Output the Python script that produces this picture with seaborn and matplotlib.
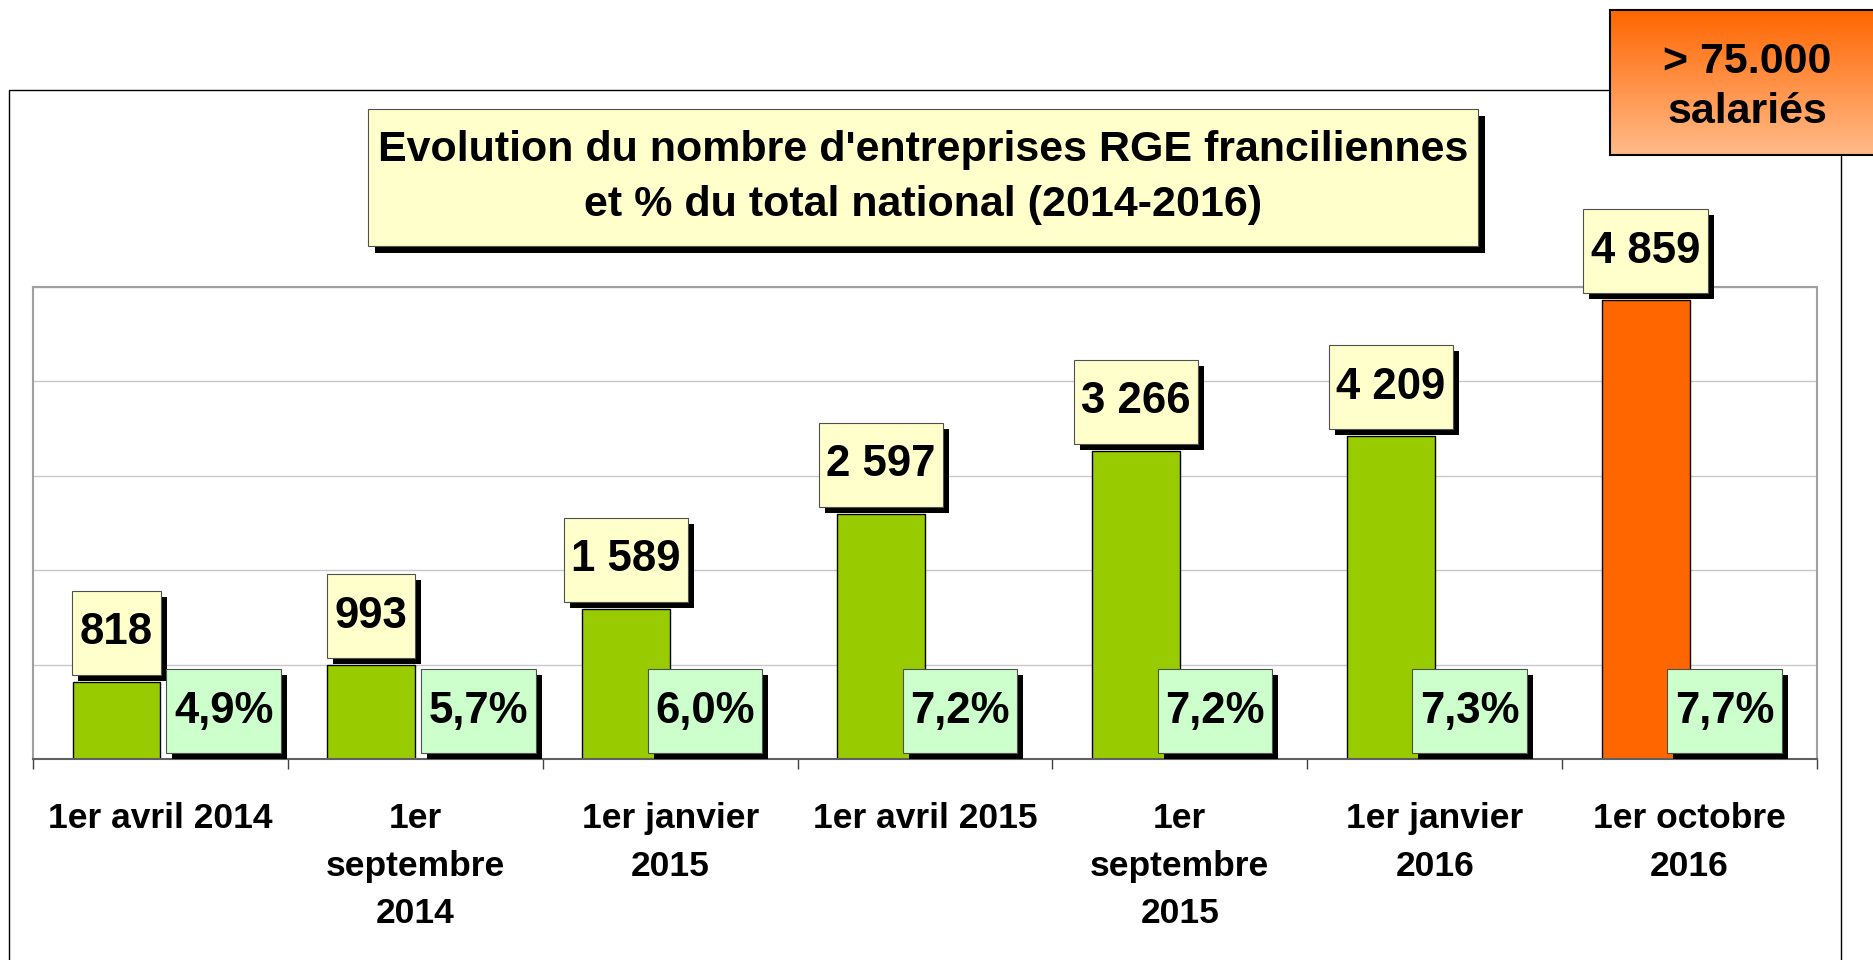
import matplotlib
matplotlib.use('Agg')
import matplotlib.pyplot as plt
import seaborn as sns
import pandas as pd
import numpy as np
from matplotlib.patches import Rectangle
from matplotlib.transforms import IdentityTransform
from matplotlib.colors import LinearSegmentedColormap

# data
dates = ['1er avril 2014', '1er\nseptembre\n2014', '1er janvier\n2015', '1er avril 2015',
         '1er\nseptembre\n2015', '1er janvier\n2016', '1er octobre\n2016']
entreprises = [818, 993, 1589, 2597, 3266, 4209, 4859]
# bar heights as drawn in the original (the "4 209" bar only reaches ~3 420 there)
hauteur_barres = [818, 993, 1589, 2597, 3266, 3420, 4859]
part_nationale = [4.9, 5.7, 6.0, 7.2, 7.2, 7.3, 7.7]
bar_colors = ['#99CC00'] * 6 + ['#FF6600']

titre = "Evolution du nombre d'entreprises RGE franciliennes\net % du total national (2014-2016)"
encart = ['> 75.000', 'salariés']

sns.set_style('white')
plt.rcParams['font.family'] = ['Liberation Sans', 'DejaVu Sans']
plt.rcParams['font.weight'] = 'bold'
plt.rcParams['text.color'] = 'black'

W, H, DPI = 1873, 960, 100
PT = 72 / DPI  # pixels -> points
fig = plt.figure(figsize=(W / DPI, H / DPI), dpi=DPI, facecolor='white')
ax = fig.add_axes([33 / W, 1 - 759 / H, (1817 - 33) / W, (759 - 287) / H])

df = pd.DataFrame({'date': dates, 'n': hauteur_barres})
bw = 0.345
sns.barplot(data=df, x='date', y='n', hue='date', palette=bar_colors, width=bw,
            saturation=1, edgecolor='black', linewidth=1.0, legend=False,
            errorbar=None, ax=ax, zorder=2)
# bars sit on the left half of each category (second, hidden series on the right)
for p in ax.patches:
    p.set_x(p.get_x() - bw / 2)

ax.set_xlim(-0.5, 6.5)
ax.set_ylim(0, 5000)
ax.set_yticks(range(0, 5001, 1000))
ax.yaxis.grid(True, color='#C8C8C8', lw=1)
ax.set_axisbelow(True)
ax.set_xlabel('')
ax.set_ylabel('')
ax.tick_params(axis='y', left=False, labelleft=False)
ax.set_xticks(range(len(dates)))
ax.set_xticklabels(dates, fontsize=25.5, fontweight='bold', linespacing=1.56)
ax.set_xticks(np.arange(-0.5, len(dates)), minor=True)
ax.tick_params(axis='x', which='major', bottom=True, length=0, pad=31, labelcolor='black')
ax.tick_params(axis='x', which='minor', bottom=True, length=7.5, width=1,
               color='#404040', direction='out')
for s in ['left', 'top', 'right']:
    ax.spines[s].set_color('#A0A0A0')
    ax.spines[s].set_linewidth(1.5)
ax.spines['bottom'].set_color('#606060')
ax.spines['bottom'].set_linewidth(1.5)

HPAD, VPAD, SH = 7.5, 21.5, 6
FS = 31.5

fig.canvas.draw()
renderer = fig.canvas.get_renderer()


def boxed(txt, face, parent, z, hpad=HPAD, vpad=VPAD, shadow=SH):
    bb = txt.get_window_extent(renderer)
    x0, y0 = bb.x0 - hpad, bb.y0 - vpad
    w, h = bb.width + 2 * hpad, bb.height + 2 * vpad
    for r in (Rectangle((x0 + shadow, y0 - shadow), w, h, fc='black', ec='none'),
              Rectangle((x0, y0), w, h, fc=face, ec='#505050', lw=0.8)):
        r.set_transform(IdentityTransform())
        r.set_clip_on(False)
        r.set_zorder(z)
        parent.add_artist(r)
    txt.set_zorder(z + 1)


# value labels above bars
val_txts = []
for i, (v, hb) in enumerate(zip(entreprises, hauteur_barres)):
    t = ax.annotate(f'{v:,}'.replace(',', ' '), xy=(i - bw / 2, hb),
                    xytext=(0, (7 + VPAD) * PT), textcoords='offset points',
                    ha='center', va='bottom', fontsize=FS, fontweight='bold',
                    color='black', annotation_clip=False)
    val_txts.append(t)
fig.canvas.draw()

base_disp = ax.transData.transform((0, 0))[1]
pct_txts = []
for i, p in enumerate(part_nationale):
    vb = val_txts[i].get_window_extent(renderer)
    val_bottom = vb.y0 - VPAD - SH
    pct_top = base_disp + SH + vb.height + 2 * VPAD
    lab = f'{p:.1f}%'.replace('.', ',')
    if val_bottom < pct_top + 12:
        # pushed to the right of the bar so it does not hit the value box
        t = ax.annotate(lab, xy=(i, 0), xytext=((SH + HPAD) * PT, (SH + VPAD) * PT),
                        textcoords='offset points', ha='left', va='bottom',
                        fontsize=FS, fontweight='bold', color='black',
                        annotation_clip=False)
    else:
        t = ax.annotate(lab, xy=(i, 0), xytext=(35 * PT, (SH + VPAD) * PT),
                        textcoords='offset points', ha='center', va='bottom',
                        fontsize=FS, fontweight='bold', color='black',
                        annotation_clip=False)
    pct_txts.append(t)
fig.canvas.draw()

for t in val_txts:
    boxed(t, '#FFFFCC', ax, 5)
for t in pct_txts:
    boxed(t, '#CCFFCC', ax, 5)

# title box
tt = fig.text(923 / W, 1 - 177.5 / H, titre, ha='center', va='center',
              fontsize=31, fontweight='bold', linespacing=1.49, color='black')
fig.canvas.draw()
boxed(tt, '#FFFFCC', fig, 4, hpad=10, vpad=21, shadow=7)

# outer frame
frame = Rectangle((9, -10), 1841 - 9, H - 90 + 10, fill=False, ec='black', lw=1.0,
                  transform=IdentityTransform(), zorder=1)
fig.add_artist(frame)

# orange gradient box top right
axo = fig.add_axes([1610 / W, 1 - 155 / H, (1885 - 1610) / W, 145 / H], zorder=6)
cmap = LinearSegmentedColormap.from_list('orange', ['#FF6600', '#FFBB8A'])
axo.imshow(np.linspace(0, 1, 256).reshape(-1, 1), aspect='auto', cmap=cmap,
           extent=[0, 1, 0, 1], origin='upper')
axo.set_xticks([])
axo.set_yticks([])
for s in axo.spines.values():
    s.set_color('black')
    s.set_linewidth(1.5)
axo.text(0.5, 1 - (73 - 10) / 145, encart[0], transform=axo.transAxes, ha='center',
         va='baseline', fontsize=31, fontweight='bold', color='black')
axo.text(0.5, 1 - (123 - 10) / 145, encart[1], transform=axo.transAxes, ha='center',
         va='baseline', fontsize=31, fontweight='bold', color='black')

fig.savefig('out.png', dpi=DPI, facecolor='white')
